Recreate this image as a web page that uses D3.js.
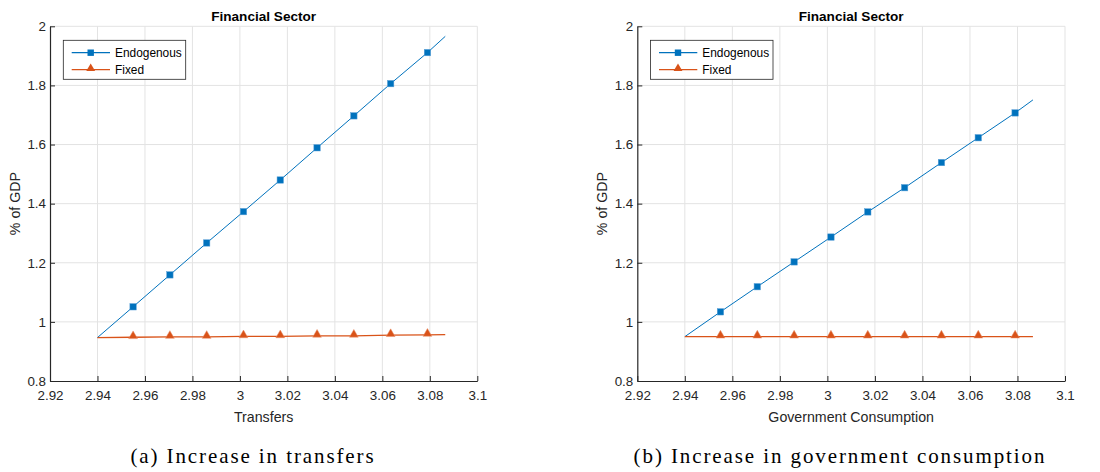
<!DOCTYPE html>
<html>
<head>
<meta charset="utf-8">
<script src="https://cdn.jsdelivr.net/npm/d3@7"></script>
<style>
html,body{margin:0;padding:0;background:#fff;}
svg{display:block;}
</style>
</head>
<body>
<svg id="chart" width="1100" height="472"></svg>
<script>
// ---- data ----
const xTicks = [2.92, 2.94, 2.96, 2.98, 3.0, 3.02, 3.04, 3.06, 3.08, 3.1];
const yTicks = [0.8, 1.0, 1.2, 1.4, 1.6, 1.8, 2.0];
// x grid of the simulated points (first and last are line ends without marker)
const xValues = [2.94, 2.955, 2.9705, 2.986, 3.0015, 3.017, 3.0325, 3.048, 3.0635, 3.079, 3.0865];
const seriesNames = ["Endogenous", "Fixed"];
// panel (a) Increase in transfers
const transfersEndogenous = [0.947, 1.051, 1.159, 1.267, 1.373, 1.480, 1.589, 1.697, 1.806, 1.911, 1.966];
const transfersFixed      = [0.947, 0.948, 0.949, 0.949, 0.951, 0.951, 0.953, 0.953, 0.955, 0.956, 0.957];
// panel (b) Increase in government consumption
const govEndogenous = [0.950, 1.034, 1.119, 1.203, 1.287, 1.372, 1.454, 1.539, 1.623, 1.707, 1.751];
const govFixed      = [0.950, 0.950, 0.950, 0.950, 0.950, 0.950, 0.950, 0.950, 0.950, 0.950, 0.950];
const panelTitles = ["Financial Sector", "Financial Sector"];
const xLabels = ["Transfers", "Government Consumption"];
const yLabel = "% of GDP";
const captions = ["(a) Increase in transfers", "(b) Increase in government consumption"];

// ---- drawing ----
const svg = d3.select("#chart");
const colors = ["#0072BD", "#D95319"];
const axisColor = "#262626";
const gridColor = "#e3e3e3";
const fontSans = "'Liberation Sans', Arial, Helvetica, sans-serif";
const fontSerif = "'Liberation Serif','DejaVu Serif', serif";

const panels = [
  {left: 50, right: 477.3, top: 26.3, bottom: 381, data: [transfersEndogenous, transfersFixed], caption: captions[0], captionX: 253, xLabel: xLabels[0], title: panelTitles[0]},
  {left: 637.3, right: 1065, top: 26.3, bottom: 381, data: [govEndogenous, govFixed], caption: captions[1], captionX: 840, xLabel: xLabels[1], title: panelTitles[1]}
];

const fmt = d => String(+d.toFixed(2));

panels.forEach(p => {
  const g = svg.append("g");
  const x = d3.scaleLinear().domain([2.92, 3.1]).range([p.left, p.right]);
  const y = d3.scaleLinear().domain([0.8, 2.0]).range([p.bottom, p.top]);

  // grid
  g.append("g").selectAll("line.vg").data(xTicks.slice(1)).join("line")
    .attr("x1", d => x(d)).attr("x2", d => x(d))
    .attr("y1", p.top).attr("y2", p.bottom)
    .attr("stroke", gridColor).attr("stroke-width", 1);
  g.append("g").selectAll("line.hg").data(yTicks.slice(1)).join("line")
    .attr("x1", p.left).attr("x2", p.right)
    .attr("y1", d => y(d)).attr("y2", d => y(d))
    .attr("stroke", gridColor).attr("stroke-width", 1);

  // axes (MATLAB style, inward ticks)
  const xAxis = d3.axisBottom(x).tickValues(xTicks).tickFormat(fmt).tickSizeInner(-5).tickSizeOuter(0).tickPadding(9);
  const yAxis = d3.axisLeft(y).tickValues(yTicks).tickFormat(fmt).tickSizeInner(-5).tickSizeOuter(0).tickPadding(4);
  const gx = g.append("g").attr("transform", `translate(0,${p.bottom})`).call(xAxis);
  const gy = g.append("g").attr("transform", `translate(${p.left},0)`).call(yAxis);
  [gx, gy].forEach(a => {
    a.select(".domain").attr("stroke", axisColor).attr("stroke-width", 1.2);
    a.selectAll(".tick line").attr("stroke", axisColor);
    a.selectAll(".tick text").attr("fill", axisColor).style("font-family", fontSans).style("font-size", "13.4px");
  });

  // lines
  const line = d3.line().x((d, i) => x(xValues[i])).y(d => y(d));
  p.data.forEach((vals, si) => {
    g.append("path").datum(vals)
      .attr("d", line)
      .attr("fill", "none")
      .attr("stroke", colors[si])
      .attr("stroke-width", si === 0 ? 1 : 1.3);
  });

  // markers (skip first and last point)
  const markerIdx = d3.range(1, xValues.length - 1);
  g.append("g").selectAll("rect").data(markerIdx).join("rect")
    .attr("x", i => x(xValues[i]) - 3.2).attr("y", i => y(p.data[0][i]) - 3.2)
    .attr("width", 6.4).attr("height", 6.4)
    .attr("fill", colors[0]).attr("stroke", "#5aa0d8").attr("stroke-width", 0.5);
  const tri = d3.symbol().type(d3.symbolTriangle).size(34);
  g.append("g").selectAll("path").data(markerIdx).join("path")
    .attr("d", tri)
    .attr("transform", i => `translate(${x(xValues[i])},${y(p.data[1][i]) - 1.2})`)
    .attr("fill", colors[1]).attr("stroke", "#e8916a").attr("stroke-width", 0.5);

  // title
  g.append("text").attr("x", (p.left + p.right) / 2).attr("y", 20.5)
    .attr("text-anchor", "middle").style("font-family", fontSans)
    .style("font-weight", "bold").style("font-size", "13.6px").attr("fill", "#000")
    .text(p.title);

  // axis labels
  g.append("text").attr("x", (p.left + p.right) / 2).attr("y", 422)
    .attr("text-anchor", "middle").style("font-family", fontSans)
    .style("font-size", "14.2px").attr("fill", axisColor).text(p.xLabel);
  g.append("text")
    .attr("transform", `translate(${p.left - 30},${(p.top + p.bottom) / 2}) rotate(-90)`)
    .attr("text-anchor", "middle").style("font-family", fontSans)
    .style("font-size", "14.2px").attr("fill", axisColor).text(yLabel);

  // legend
  const lx = p.left + 13.3, ly = 40.3, lw = 122.4, lh = 39;
  const lg = g.append("g");
  lg.append("rect").attr("x", lx).attr("y", ly).attr("width", lw).attr("height", lh)
    .attr("fill", "#fff").attr("stroke", axisColor).attr("stroke-width", 0.8);
  seriesNames.forEach((name, si) => {
    const yy = ly + 12.4 + si * 17;
    lg.append("line").attr("x1", lx + 8.4).attr("x2", lx + 46.7).attr("y1", yy).attr("y2", yy)
      .attr("stroke", colors[si]).attr("stroke-width", 1.2);
    if (si === 0) {
      lg.append("rect").attr("x", lx + 27.4 - 3.2).attr("y", yy - 3.2).attr("width", 6.4).attr("height", 6.4)
        .attr("fill", colors[0]);
    } else {
      lg.append("path").attr("d", tri).attr("transform", `translate(${lx + 27.4},${yy - 1.2})`).attr("fill", colors[1]);
    }
    lg.append("text").attr("x", lx + 51.7).attr("y", yy).attr("dy", "0.35em")
      .style("font-family", fontSans).style("font-size", "11.9px").attr("fill", "#000").text(name);
  });

  // caption
  svg.append("text").attr("x", p.captionX).attr("y", 463)
    .attr("text-anchor", "middle").style("font-family", fontSerif)
    .style("font-size", "21px").style("letter-spacing", "1.9px").attr("fill", "#000").text(p.caption);
});
</script>
</body>
</html>
